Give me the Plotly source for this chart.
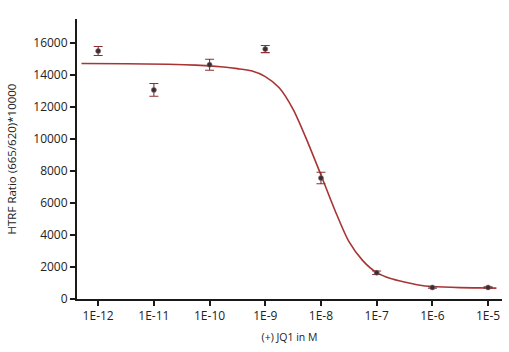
import plotly.graph_objects as go

# measured data points
conc = [1e-12, 1e-11, 1e-10, 1e-9, 1e-8, 1e-7, 1e-6, 1e-5]
ratio = [15500, 13070, 14640, 15620, 7560, 1640, 720, 720]
err = [280, 400, 340, 220, 360, 110, 50, 40]

# fitted curve (log10 concentration, ratio)
curve_logx = [-12.30, -11.50, -10.75, -10.25, -9.75, -9.50, -9.25, -9.00, -8.75, -8.50,
              -8.25, -8.00, -7.75, -7.50, -7.25, -7.00, -6.75, -6.50, -6.25, -6.00,
              -5.50, -5.00, -4.85]
curve_y = [14720, 14700, 14670, 14620, 14500, 14400, 14260, 13900, 13200, 11850,
           9900, 7750, 5550, 3600, 2400, 1650, 1280, 1060, 880, 780,
           710, 690, 680]
curve_x = [10 ** v for v in curve_logx]

xtick_vals = [1e-12, 1e-11, 1e-10, 1e-9, 1e-8, 1e-7, 1e-6, 1e-5]
xtick_text = ["1E-12", "1E-11", "1E-10", "1E-9", "1E-8", "1E-7", "1E-6", "1E-5"]
ytick_vals = [0, 2000, 4000, 6000, 8000, 10000, 12000, 14000, 16000]
ytick_text = ["0", "2000", "4000", "6000", "8000", "10000", "12000", "14000", "16000"]

font_family = "Open Sans"

fig = go.Figure()
fig.add_trace(go.Scatter(
    x=curve_x, y=curve_y, mode="lines",
    line=dict(color="#a83434", width=1.6, shape="spline", smoothing=0.8),
    hoverinfo="skip", showlegend=False))
fig.add_trace(go.Scatter(
    x=conc, y=ratio, mode="markers",
    marker=dict(color="#3d2d30", size=5, line=dict(color="#7a6a6c", width=0.6)),
    error_y=dict(type="data", array=err, visible=True, color="#8e2e32", thickness=1.1, width=4.5),
    showlegend=False))

fig.update_layout(
    width=509, height=352,
    margin=dict(l=77, r=7, t=19, b=53),
    paper_bgcolor="white", plot_bgcolor="white",
    font=dict(family=font_family, size=12, color="#222222"),
    xaxis=dict(
        type="log", range=[-12.38, -4.75],
        tickvals=xtick_vals, ticktext=xtick_text,
        tickfont=dict(size=12),
        showgrid=False, zeroline=False,
        showline=True, linecolor="#1a1a1a", linewidth=2,
        ticks="outside", ticklen=5, tickwidth=2, tickcolor="#1a1a1a",
        title=dict(text="(+) JQ1 in M", standoff=10, font=dict(size=10.5)),
    ),
    yaxis=dict(
        range=[0, 17500],
        tickvals=ytick_vals, ticktext=ytick_text,
        tickfont=dict(size=12),
        showgrid=False, zeroline=False,
        showline=True, linecolor="#1a1a1a", linewidth=2,
        ticks="outside", ticklen=5, tickwidth=2, tickcolor="#1a1a1a",
        title=dict(text="HTRF Ratio (665/620)*10000", standoff=14, font=dict(size=11.5)),
    ),
)

fig.write_html("out.html")
